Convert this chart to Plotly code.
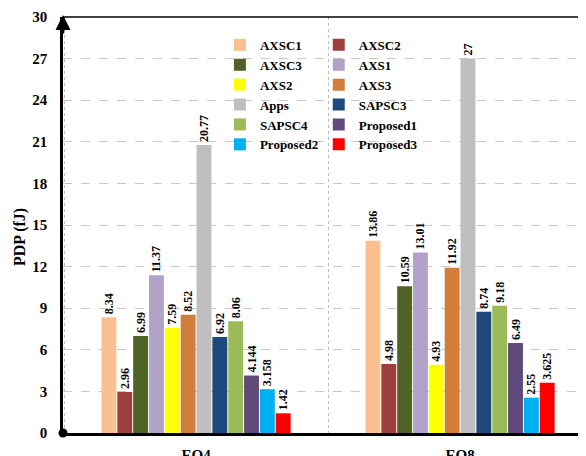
import plotly.graph_objects as go

categories = ["EO4", "EO8"]
series_names = ["AXSC1", "AXSC2", "AXSC3", "AXS1", "AXS2", "AXS3",
                "Apps", "SAPSC3", "SAPSC4", "Proposed1", "Proposed2", "Proposed3"]
eo4_values = [8.34, 2.96, 6.99, 11.37, 7.59, 8.52, 20.77, 6.92, 8.06, 4.144, 3.158, 1.42]
eo8_values = [13.86, 4.98, 10.59, 13.01, 4.93, 11.92, 27, 8.74, 9.18, 6.49, 2.55, 3.625]
colors = ["#FAC090", "#9E3F3F", "#4F6228", "#B3A2C7", "#FFFF00", "#D07E3A",
          "#BFBFBF", "#1F497D", "#9BBB59", "#604A7B", "#00B0F0", "#FF0000"]
y_ticks = [0, 3, 6, 9, 12, 15, 18, 21, 24, 27, 30]
y_title = "PDP (fJ)"

FONT = "Liberation Serif"

fig = go.Figure()
for i, name in enumerate(series_names):
    vals = [eo4_values[i], eo8_values[i]]
    fig.add_trace(go.Bar(
        name=name,
        x=categories,
        y=vals,
        marker=dict(color=colors[i], line=dict(width=0)),
        text=[f"{v:g}" for v in vals],
        textposition="outside",
        textangle=-90,
        constraintext="none",
        cliponaxis=False,
        textfont=dict(family=FONT, size=12, color="black", weight="bold"),
        legend="legend" if i % 2 == 0 else "legend2",
    ))

legend_font = dict(family=FONT, size=13, weight="bold", color="black")

# page body has an 8px margin, so the figure is sized/offset to compensate
fig.update_layout(
    width=578, height=448,
    margin=dict(l=55, r=0, t=9, b=23),
    paper_bgcolor="white", plot_bgcolor="white",
    barmode="group", bargap=0.28, bargroupgap=0.06,
    font=dict(family=FONT, color="black"),
    legend=dict(x=0.300, y=0.969, xanchor="left", yanchor="top",
                bgcolor="rgba(0,0,0,0)", tracegroupgap=0, font=legend_font),
    legend2=dict(x=0.489, y=0.969, xanchor="left", yanchor="top",
                 bgcolor="rgba(0,0,0,0)", tracegroupgap=0, font=legend_font),
    xaxis=dict(
        range=[-0.504, 1.477], automargin=False,
        showline=True, linecolor="black", linewidth=3,
        showgrid=True, tickson="boundaries", gridcolor="#BBBBBB",
        griddash="dot", gridwidth=1.2,
        ticks="", ticklabelstandoff=6,
        tickfont=dict(family=FONT, size=15, weight="bold"),
    ),
    yaxis=dict(
        range=[0, 30], tickvals=y_ticks, automargin=False,
        showline=True, linecolor="black", linewidth=2.5,
        showgrid=True, gridcolor="#C8C8C8", griddash="dash", gridwidth=1,
        zeroline=False, ticks="", ticklabelstandoff=10,
        tickfont=dict(family=FONT, size=15, weight="bold"),
    ),
)

# y axis title (placed slightly below the axis middle, as in the reference)
fig.add_annotation(xref="paper", yref="paper", x=0, y=0.471, xshift=-43,
                   xanchor="center", yanchor="middle", showarrow=False,
                   text=y_title, textangle=-90,
                   font=dict(family=FONT, size=16, weight="bold", color="black"))
# top border line
fig.add_shape(type="line", xref="paper", yref="paper", x0=0, x1=1, y0=1, y1=1,
              line=dict(color="black", width=1.5))
# origin dot
fig.add_shape(type="circle", xref="paper", yref="paper",
              xsizemode="pixel", ysizemode="pixel", xanchor=0, yanchor=0,
              x0=-4.5, x1=4.5, y0=-4.5, y1=4.5,
              fillcolor="black", line=dict(color="black", width=0))
# arrow head on y axis
fig.add_annotation(xref="paper", yref="paper", x=0, y=1.005, ax=0, ay=20,
                   text="", showarrow=True, arrowhead=2, arrowsize=1.2,
                   arrowwidth=2.5, arrowcolor="black")

fig.write_html("out.html")
